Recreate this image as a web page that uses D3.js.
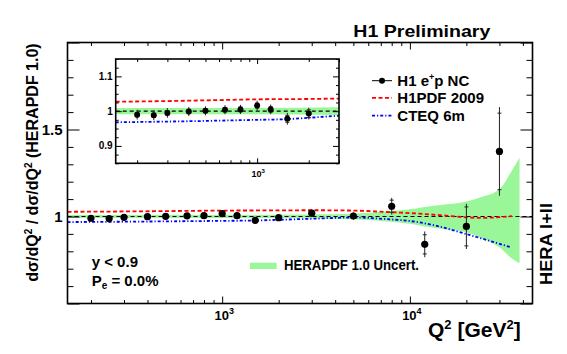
<!DOCTYPE html>
<html><head><meta charset="utf-8">
<script src="https://cdn.jsdelivr.net/npm/d3@7"></script>
<style>
body{margin:0;background:#fff}
text{font-family:"Liberation Sans",Arial,Helvetica,sans-serif;font-weight:bold;fill:#000}
</style></head>
<body><svg id="c" width="567" height="354"></svg>
<script>
// ---------- data ----------
const q2      = [200,250,300,400,500,650,800,1000,1200,1500,2000,3000,5000,8000,12000,20000,30000];
const ratio   = [0.990,0.988,0.995,0.999,1.001,1.004,1.005,1.016,1.005,0.978,0.993,1.019,1.003,1.059,0.840,0.943,1.374];
const errStat = [0.006,0.006,0.006,0.006,0.006,0.006,0.007,0.007,0.008,0.010,0.011,0.012,0.014,0.035,0.055,0.112,0.220];
const errTot  = [0.014,0.014,0.014,0.013,0.013,0.013,0.013,0.014,0.014,0.017,0.017,0.020,0.022,0.048,0.074,0.130,0.255];

const h1pdfQ2    = [150,300,500,1000,2000,3000,5000,7500,9000,11300,16400,20000,24000,30000,35000];
const h1pdfRatio = [1.027,1.029,1.031,1.034,1.035,1.036,1.034,1.026,1.022,1.016,1.003,0.995,0.992,0.996,1.002];

const cteqQ2    = [150,300,500,1000,1500,2000,3000,5000,7500,11300,13900,20000,25500,34500];
const cteqRatio = [0.968,0.970,0.972,0.975,0.977,0.981,0.987,0.994,0.985,0.966,0.946,0.899,0.866,0.823];

const bandQ2   = [150,1000,3000,5000,8000,10000,12000,15000,20000,23600,30000,35200,38400];
const bandUp   = [0.009,0.009,0.011,0.016,0.032,0.042,0.055,0.068,0.086,0.109,0.156,0.269,0.337];
const bandDown = [0.009,0.009,0.011,0.016,0.030,0.042,0.057,0.072,0.091,0.120,0.177,0.244,0.269];

const xTickValues  = [1000,10000];
const xTickLabels  = ["10^3","10^4"];
const yTickValues  = [1,1.5];
const yTickLabels  = ["1","1.5"];
const insetXTickValues = [1000];
const insetXTickLabels = ["10^3"];
const insetYTickValues = [0.9,1,1.1];
const insetYTickLabels = ["0.9","1","1.1"];

const legendLabels = ["H1 e^+p NC","H1PDF 2009","CTEQ 6m"];
const bandLabel = "HERAPDF 1.0 Uncert.";

// ---------- setup ----------
const svg = d3.select("#c");
const M = {l:67.5, r:532.5, t:42.5, b:303.5};
const x = d3.scaleLog().domain([150,45000]).range([M.l,M.r]);
const y = d3.scaleLinear().domain([0.5,2.0]).range([M.b,M.t]);

const I = {l:115.7, r:339, t:59, b:163.3};
const xi = d3.scaleLog().domain([150,3000]).range([I.l,I.r]);
const yi = d3.scaleLinear().domain([0.85,1.15]).range([I.b,I.t]);

const pts = q2.map((q,i)=>({q, v:ratio[i], s:errStat[i], t:errTot[i]}));
const band = bandQ2.map((q,i)=>({q, up:bandUp[i], dn:bandDown[i]}));
const red = h1pdfQ2.map((q,i)=>({q, v:h1pdfRatio[i]}));
const blue = cteqQ2.map((q,i)=>({q, v:cteqRatio[i]}));

const defs = svg.append("defs");
defs.append("clipPath").attr("id","cm").append("rect")
  .attr("x",M.l).attr("y",M.t).attr("width",M.r-M.l).attr("height",M.b-M.t);
defs.append("clipPath").attr("id","ci").append("rect")
  .attr("x",I.l).attr("y",I.t).attr("width",I.r-I.l).attr("height",I.b-I.t);

const RED="#ff0000", BLUE="#0000ff", GREEN="#99f799";

function drawPanel(g, xs, ys, clipId, xDom, r, pointFilter){
  const c = g.append("g").attr("clip-path",`url(#${clipId})`);
  c.append("path").datum(band)
    .attr("d", d3.area().x(d=>xs(d.q)).y0(d=>ys(1-d.dn)).y1(d=>ys(1+d.up)).curve(d3.curveMonotoneX))
    .attr("fill",GREEN);
  c.append("line").attr("x1",xs(xDom[0])).attr("x2",xs(xDom[1]))
    .attr("y1",ys(1)).attr("y2",ys(1))
    .attr("stroke","#000").attr("stroke-width",1.1).attr("stroke-dasharray","4,3");
  c.append("path").datum(red)
    .attr("d", d3.line().x(d=>xs(d.q)).y(d=>ys(d.v)).curve(d3.curveMonotoneX))
    .attr("fill","none").attr("stroke",RED).attr("stroke-width",1.8).attr("stroke-dasharray","4,2.5");
  c.append("path").datum(blue)
    .attr("d", d3.line().x(d=>xs(d.q)).y(d=>ys(d.v)).curve(d3.curveMonotoneX))
    .attr("fill","none").attr("stroke",BLUE).attr("stroke-width",1.8).attr("stroke-dasharray","3,2,1.2,2");
  const p = c.selectAll("g.pt").data(pts.filter(pointFilter)).enter().append("g");
  p.append("line").attr("x1",d=>xs(d.q)).attr("x2",d=>xs(d.q))
    .attr("y1",d=>ys(d.v-d.t)).attr("y2",d=>ys(d.v+d.t)).attr("stroke","#222").attr("stroke-width",1);
  [-1,1].forEach(sg=>{
    p.append("line").attr("x1",d=>xs(d.q)-2).attr("x2",d=>xs(d.q)+2)
      .attr("y1",d=>ys(d.v+sg*d.s)).attr("y2",d=>ys(d.v+sg*d.s)).attr("stroke","#222").attr("stroke-width",1);
  });
  p.append("circle").attr("cx",d=>xs(d.q)).attr("cy",d=>ys(d.v)).attr("r",r).attr("fill","#000");
}

function tickSet(g, xs, ys, box, xMaj, xMin, yMaj, yMin, xl, yl){
  const add = (axis, tr)=>{
    const a = g.append("g").attr("transform",tr).call(axis);
    a.select(".domain").remove();
    a.selectAll("text").remove();
    a.selectAll("line").attr("stroke","#000").attr("stroke-width",1);
  };
  add(d3.axisBottom(xs).tickValues(xMaj).tickSize(-xl[0]).tickFormat(""), `translate(0,${box.b})`);
  add(d3.axisBottom(xs).tickValues(xMin).tickSize(-xl[1]).tickFormat(""), `translate(0,${box.b})`);
  add(d3.axisTop(xs).tickValues(xMaj).tickSize(-xl[0]).tickFormat(""), `translate(0,${box.t})`);
  add(d3.axisTop(xs).tickValues(xMin).tickSize(-xl[1]).tickFormat(""), `translate(0,${box.t})`);
  add(d3.axisLeft(ys).tickValues(yMaj).tickSize(-yl[0]).tickFormat(""), `translate(${box.l},0)`);
  add(d3.axisLeft(ys).tickValues(yMin).tickSize(-yl[1]).tickFormat(""), `translate(${box.l},0)`);
  add(d3.axisRight(ys).tickValues(yMaj).tickSize(-yl[0]).tickFormat(""), `translate(${box.r},0)`);
  add(d3.axisRight(ys).tickValues(yMin).tickSize(-yl[1]).tickFormat(""), `translate(${box.r},0)`);
  g.append("rect").attr("x",box.l).attr("y",box.t).attr("width",box.r-box.l).attr("height",box.b-box.t)
    .attr("fill","none").attr("stroke","#000").attr("stroke-width",1.6);
}

function supText(t, str, supSize, dy){
  const parts = str.split("^");
  t.append("tspan").text(parts[0]);
  if(parts.length>1){
    const m = parts[1];
    // superscript is first char(s) until a non-sup; for "e^+p NC" split
    let sup = m, rest = "";
    if(m.length>1 && isNaN(+m)){ sup = m[0]; rest = m.slice(1); }
    t.append("tspan").attr("font-size",supSize).attr("dy",-dy).text(sup);
    if(rest) t.append("tspan").attr("dy",dy).text(rest);
  }
}

// minor ticks helpers
function logMinors(lo,hi){
  const out=[];
  for(let e=2;e<=4;e++){ for(let k=2;k<=9;k++){ const v=k*Math.pow(10,e); if(v>=lo&&v<=hi) out.push(v);} }
  return out;
}
function linMinors(lo,hi,step,majors){
  const out=[]; const n=Math.round((hi-lo)/step);
  for(let i=0;i<=n;i++){ const v=+(lo+i*step).toFixed(4); if(!majors.some(m=>Math.abs(m-v)<1e-6)) out.push(v); }
  return out;
}

// ---------- main panel ----------
const gm = svg.append("g");
drawPanel(gm, x, y, "cm", [150,45000], 3.6, d=>true);
tickSet(gm, x, y, M, xTickValues, logMinors(150,45000), [0.5,1,1.5,2], linMinors(0.5,2.0,0.1,[0.5,1,1.5,2]), [7,3.5], [12,6]);

// main tick labels
xTickValues.forEach((v,i)=>{
  const t = gm.append("text").attr("x",x(v)+2).attr("y",320).attr("text-anchor","middle").attr("font-size",13);
  supText(t, xTickLabels[i], 9, 6);
});
yTickValues.forEach((v,i)=>{
  gm.append("text").attr("x",M.l-5).attr("y",y(v)+5.5).attr("text-anchor","end").attr("font-size",15).text(yTickLabels[i]);
});

// ---------- inset ----------
const gi = svg.append("g");
gi.append("rect").attr("x",I.l).attr("y",I.t).attr("width",I.r-I.l).attr("height",I.b-I.t).attr("fill","#fff");
drawPanel(gi, xi, yi, "ci", [150,3000], 3, d=>d.q<2500);
tickSet(gi, xi, yi, I, insetXTickValues, logMinors(150,3000), insetYTickValues,
  linMinors(0.85,1.15,0.025,insetYTickValues), [5,3], [6,3]);
insetXTickValues.forEach((v,i)=>{
  const t = gi.append("text").attr("x",xi(v)+1).attr("y",177).attr("text-anchor","middle")
    .attr("font-size",9).attr("font-weight","normal");
  supText(t, insetXTickLabels[i], 6, 4);
});
insetYTickValues.forEach((v,i)=>{
  gi.append("text").attr("x",I.l-3).attr("y",yi(v)+3.5).attr("text-anchor","end")
    .attr("font-size",10).attr("font-weight","normal").text(insetYTickLabels[i]);
});

// ---------- legend ----------
const lg = svg.append("g");
const lx0=372, lx1=392, ltx=397.3;
const rowsY=[80.7,97.9,115.6];
lg.append("line").attr("x1",lx0).attr("x2",lx1).attr("y1",rowsY[0]).attr("y2",rowsY[0]).attr("stroke","#000").attr("stroke-width",1);
lg.append("circle").attr("cx",(lx0+lx1)/2).attr("cy",rowsY[0]).attr("r",3).attr("fill","#000");
lg.append("line").attr("x1",lx0).attr("x2",lx1).attr("y1",rowsY[1]).attr("y2",rowsY[1])
  .attr("stroke",RED).attr("stroke-width",1.6).attr("stroke-dasharray","4,2.5");
lg.append("line").attr("x1",lx0).attr("x2",lx1).attr("y1",rowsY[2]).attr("y2",rowsY[2])
  .attr("stroke",BLUE).attr("stroke-width",1.6).attr("stroke-dasharray","3,2,1.2,2");
legendLabels.forEach((s,i)=>{
  const t = lg.append("text").attr("x",ltx).attr("y",rowsY[i]+5.5).attr("font-size",15);
  supText(t, s, 9, 6);
});

lg.append("rect").attr("x",250).attr("y",262.7).attr("width",26.7).attr("height",6.3).attr("fill",GREEN);
lg.append("text").attr("x",284).attr("y",270).attr("font-size",14)
  .attr("textLength",135).attr("lengthAdjust","spacingAndGlyphs").text(bandLabel);

// ---------- texts ----------
svg.append("text").attr("x",353.3).attr("y",36.5).attr("font-size",17)
  .attr("textLength",137).attr("lengthAdjust","spacingAndGlyphs").text("H1 Preliminary");

const yl = svg.append("text").attr("transform","translate(37.5,162.5) rotate(-90)")
  .attr("text-anchor","middle").attr("font-size",16);
yl.append("tspan").text("dσ/dQ");
yl.append("tspan").attr("font-size",10).attr("dy",-6).text("2");
yl.append("tspan").attr("dy",6).text(" / dσ/dQ");
yl.append("tspan").attr("font-size",10).attr("dy",-6).text("2");
yl.append("tspan").attr("dy",6).text(" (HERAPDF 1.0)");

const xl = svg.append("text").attr("x",428).attr("y",337).attr("font-size",21);
xl.append("tspan").text("Q");
xl.append("tspan").attr("font-size",13).attr("dy",-8).text("2");
xl.append("tspan").attr("dy",8).text(" [GeV");
xl.append("tspan").attr("font-size",13).attr("dy",-8).text("2");
xl.append("tspan").attr("dy",8).text("]");

const tx1 = svg.append("text").attr("x",91.7).attr("y",266.7).attr("font-size",15).text("y < 0.9");
const tx2 = svg.append("text").attr("x",91.7).attr("y",286).attr("font-size",15);
tx2.append("tspan").text("P");
tx2.append("tspan").attr("font-size",10).attr("dy",3).text("e");
tx2.append("tspan").attr("dy",-3).text(" = 0.0%");

svg.append("text").attr("transform","translate(552,244) rotate(-90)")
  .attr("text-anchor","middle").attr("font-size",17)
  .attr("textLength",82).attr("lengthAdjust","spacingAndGlyphs").text("HERA I+II");
</script>
</body></html>
